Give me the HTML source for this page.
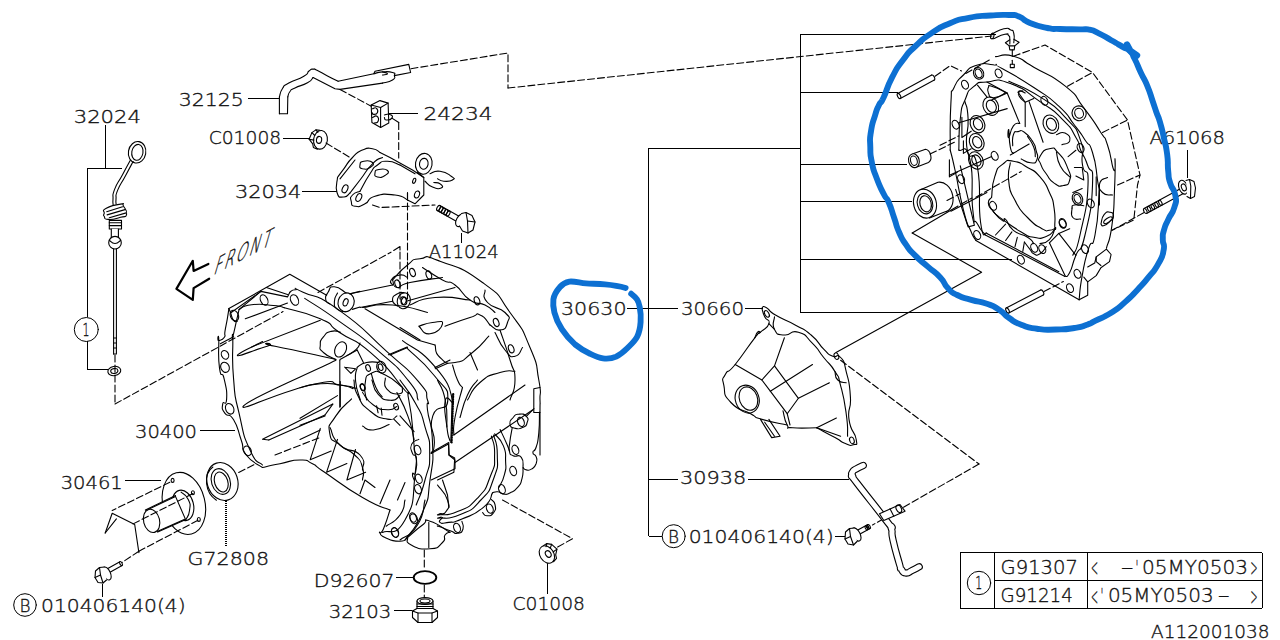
<!DOCTYPE html>
<html><head><meta charset="utf-8"><title>A112001038</title>
<style>
html,body{margin:0;padding:0;background:#fff;}
svg{display:block;}
.k{fill:none;stroke:#000;stroke-width:1.1;stroke-linecap:round;stroke-linejoin:round;}
.w{fill:#fff;stroke:#000;stroke-width:1.1;stroke-linecap:round;stroke-linejoin:round;}
.d{fill:none;stroke:#000;stroke-width:1.1;stroke-dasharray:7 3;}
.b{fill:none;stroke:#0d70d2;stroke-width:5.9;stroke-linecap:round;stroke-linejoin:round;}
text{font-family:"DejaVu Sans Light","DejaVu Sans","Liberation Sans",sans-serif;font-weight:200;font-size:18px;fill:#111;stroke:#111;stroke-width:0.35px;}
</style></head><body>
<svg width="1280" height="640" viewBox="0 0 1280 640">
<rect width="1280" height="640" fill="#fff"/>
<g class="k" id="leaders" shape-rendering="crispEdges" style="stroke-width:1">
<!-- 32024 -->
<path d="M105.5 125V168M87 168H122M87 168V317M87 341V369H108"/>
<circle shape-rendering="geometricPrecision" cx="86.3" cy="329.5" r="12"/>
<!-- 32125, C01008, 32034, 24234 -->
<path d="M248 98H279M283 138.3H310M302 191.3H337M389 113.4H417.5M461 232.5V242.5"/>
<!-- 30400 30461 G72808 bolt -->
<path d="M200 430.7H235M125 480.6H161M102 584V597"/>
<path d="M226 501V546" stroke-width="1.8" stroke-dasharray="1.2 0.8" stroke-linecap="butt"/>
<circle shape-rendering="geometricPrecision" cx="25" cy="605" r="11.3"/>
<!-- D92607 32103 C01008 -->
<path d="M396 577.5H413M394 610.7H412M547.5 561V593.7"/>
<!-- right tree -->
<path d="M627.5 308.4H678M745 308.4H763M648.6 148V536H662M648.6 148H800M800 34V312M800 34H996M800 92H898M800 164H907M800 201H912M800 259H1012M800 312H1010M648.6 479.2H678M748 479.2H849M835 536H845"/>
<circle shape-rendering="geometricPrecision" cx="673.7" cy="536.2" r="11.5"/>
<path d="M1187 150V178"/>
<!-- table -->
<path d="M960.5 552.6H1262V608.4H960.5ZM994.4 552.6V608.4M1087.4 552.6V608.4M994.4 580.5H1262"/>
<circle shape-rendering="geometricPrecision" cx="979" cy="583" r="11.7"/>
</g>
<g id="labels">
<text x="73.7" y="123" style="font-size:18px" textLength="67.3" lengthAdjust="spacingAndGlyphs">32024</text>
<text x="178.7" y="105.5" style="font-size:18px" textLength="65" lengthAdjust="spacingAndGlyphs">32125</text>
<text x="423.5" y="120" style="font-size:18px" textLength="69" lengthAdjust="spacingAndGlyphs">24234</text>
<text x="208.7" y="144.3" style="font-size:18px" textLength="72.5" lengthAdjust="spacingAndGlyphs">C01008</text>
<text x="235" y="197.5" style="font-size:18px" textLength="66.3" lengthAdjust="spacingAndGlyphs">32034</text>
<text x="428.7" y="258" style="font-size:18px" textLength="70" lengthAdjust="spacingAndGlyphs">A11024</text>
<text x="561" y="314.8" style="font-size:18px" textLength="65.6" lengthAdjust="spacingAndGlyphs">30630</text>
<text x="681" y="314.8" style="font-size:18px" textLength="63" lengthAdjust="spacingAndGlyphs">30660</text>
<text x="1149.4" y="144.4" style="font-size:18px" textLength="75.6" lengthAdjust="spacingAndGlyphs">A61068</text>
<text x="135" y="437.5" style="font-size:18px" textLength="62" lengthAdjust="spacingAndGlyphs">30400</text>
<text x="60.7" y="489" style="font-size:18px" textLength="62" lengthAdjust="spacingAndGlyphs">30461</text>
<text x="187.5" y="565" style="font-size:18px" textLength="81.5" lengthAdjust="spacingAndGlyphs">G72808</text>
<text x="313.7" y="586.8" style="font-size:18px" textLength="80.8" lengthAdjust="spacingAndGlyphs">D92607</text>
<text x="328.7" y="617.5" style="font-size:18px" textLength="62.5" lengthAdjust="spacingAndGlyphs">32103</text>
<text x="512.5" y="609.5" style="font-size:18px" textLength="72.5" lengthAdjust="spacingAndGlyphs">C01008</text>
<text x="41" y="612" style="font-size:18px" textLength="144.6" lengthAdjust="spacingAndGlyphs">010406140(4)</text>
<text x="19.5" y="611.5" style="font-size:17px" textLength="11" lengthAdjust="spacingAndGlyphs">B</text>
<text x="680" y="483.8" style="font-size:18px" textLength="66.3" lengthAdjust="spacingAndGlyphs">30938</text>
<text x="688.7" y="543" style="font-size:18px" textLength="145" lengthAdjust="spacingAndGlyphs">010406140(4)</text>
<text x="668" y="542.7" style="font-size:17px" textLength="11" lengthAdjust="spacingAndGlyphs">B</text>
<text x="82.5" y="335.5" style="font-size:17px" textLength="7" lengthAdjust="spacingAndGlyphs">1</text>
<text x="975.3" y="589" style="font-size:17px" textLength="7" lengthAdjust="spacingAndGlyphs">1</text>
<text x="1000.5" y="573.8" style="font-size:19px" textLength="77.5" lengthAdjust="spacingAndGlyphs">G91307</text>
<text x="1000.5" y="602.3" style="font-size:19px" textLength="72.3" lengthAdjust="spacingAndGlyphs">G91214</text>
<text x="1091" y="576.2" style="font-size:25px" textLength="7" lengthAdjust="spacingAndGlyphs">&lt;</text>
<text x="1120.6" y="573.8" style="font-size:19px" textLength="13.4" lengthAdjust="spacingAndGlyphs">-</text>
<text x="1135.5" y="573.8" style="font-size:19px" textLength="3" lengthAdjust="spacingAndGlyphs">'</text>
<text x="1141.9" y="573.8" style="font-size:19px" textLength="106.1" lengthAdjust="spacingAndGlyphs">05MY0503</text>
<text x="1250.6" y="576.2" style="font-size:25px" textLength="7" lengthAdjust="spacingAndGlyphs">&gt;</text>
<text x="1091" y="604.7" style="font-size:25px" textLength="7" lengthAdjust="spacingAndGlyphs">&lt;</text>
<text x="1100.5" y="602.3" style="font-size:19px" textLength="3" lengthAdjust="spacingAndGlyphs">'</text>
<text x="1107.9" y="602.3" style="font-size:19px" textLength="105.7" lengthAdjust="spacingAndGlyphs">05MY0503</text>
<text x="1217.5" y="602.3" style="font-size:19px" textLength="12.5" lengthAdjust="spacingAndGlyphs">-</text>
<text x="1250.6" y="604.7" style="font-size:25px" textLength="7" lengthAdjust="spacingAndGlyphs">&gt;</text>
<text x="1151" y="638.4" style="font-size:18.5px" textLength="118.4" lengthAdjust="spacingAndGlyphs">A112001038</text>
<text transform="matrix(0.55 -0.292 -0.28 0.96 213 275.2)" style="font-size:26px;stroke-width:0.5px" textLength="103" lengthAdjust="spacing">FRONT</text>
</g>
<g id="rhousing" class="k">
<path d="M950.2 150C950.4 134.4 949.6 124 950.9 103.1C952.2 82.3 949.9 96.9 954.1 87.5C958.2 78.1 956.1 82.3 963.4 75C970.7 67.7 966 69 975.9 65.6C985.8 62.2 984.3 63.8 993.1 64.8C1002 65.9 989 61.2 1002.5 68.8C1016 76.3 1015 75 1033.8 87.5C1052.5 100 1045.2 93.8 1058.8 106.2C1072.3 118.8 1065.6 113.8 1074.4 125C1083.1 136.2 1079 130.8 1085 140C1091 149.2 1088.3 139.2 1092.5 152.5C1096.7 165.8 1095.4 165 1097.5 180C1099.6 195 1099.6 179.2 1098.8 197.5C1097.9 215.8 1098.4 217.8 1095 235C1091.6 252.2 1092.7 235.5 1088.4 249.1C1084.2 262.6 1085.3 258.7 1082.2 275.6C1079.1 292.6 1080.1 291.8 1079.1 299.8"/>
<path d="M1079.1 299.8L975.9 240.5"/>
<path d="M975.9 240.5C974.1 237.1 974.6 240.5 970.5 230.3C966.3 220.2 968.6 230.1 963.4 210C958.3 189.9 959.4 190 955 170C950.6 150 951.8 156.7 950.2 150"/>
<path d="M965.8 73.4L990 59.7" class="d" stroke-dasharray="10 4"/>
<path d="M995.5 56.6C1001.5 56.5 1000.7 52.7 1013.4 56.2C1026.2 59.8 1016.6 57.3 1033.8 67.2C1050.9 77.1 1048.3 72.4 1065 85.9C1081.7 99.5 1072.1 92.7 1083.8 107.8C1095.4 122.9 1092.1 118.9 1100 131.2C1107.9 143.6 1102.9 132.1 1107.5 145C1112.1 157.9 1111.2 165 1113.8 170C1116.2 175 1114.8 153.3 1115 160C1115.2 166.7 1115.5 168.1 1114.5 190C1113.5 211.9 1114.6 206.2 1111.9 225.6C1109.2 245.1 1108.2 240.7 1106.4 248.3"/>
<path d="M1079.1 299.8L1087.7 295.2L1087.7 281.9L1096.2 275.6L1100.9 267.8L1109.5 261.6L1111.1 254.5L1106.4 249.1L1096.2 256.9L1096.2 261.6L1100.9 265.5"/>
<path d="M1096.2 256.9L1094.7 263.1L1087.7 267"/>
<path d="M1087.7 281.9L1083.8 277.2"/>
<path d="M958.8 150C959.3 139.6 958.2 135.4 960.3 118.8C962.4 102.1 960.6 110.7 965 100C969.4 89.3 966.3 92.7 973.6 86.7C980.9 80.7 974.6 83.1 986.9 82C999.1 81 992.6 77.1 1010.3 83.6C1028 90.1 1022.8 89.8 1040 101.6C1057.2 113.3 1049.9 106.8 1061.9 118.8C1073.9 130.7 1069.7 127.1 1075.9 137.5C1082.2 147.9 1076.8 140.8 1080.6 150C1084.5 159.2 1083.5 153.3 1087.5 165C1091.5 176.7 1093.3 161.7 1092.5 185C1091.7 208.3 1090.5 211.6 1085 235C1079.5 258.4 1081 242.8 1075.9 255.3C1070.8 267.8 1073.3 265.5 1069.7 272.5C1066 279.5 1066.6 275.1 1065 276.4"/>
<path d="M1065 276.4L985.3 235"/>
<path d="M985.3 235C982.7 231.4 981.7 232.4 977.5 224.1C973.3 215.7 975.3 231.4 972.8 210C970.3 188.6 974.7 180 970 160C965.3 140 962.5 153.3 958.8 150"/>
<path d="M1008.8 81.2C1019.2 86.5 1021.2 84.9 1040 96.9C1058.8 108.9 1051.5 102.6 1065 117.2C1078.5 131.8 1074.8 124.7 1080.6 140.6C1086.5 156.6 1080 150.2 1082.5 165C1085 179.8 1088.8 161.7 1088 185C1087.2 208.3 1085.1 211.6 1080 235C1074.9 258.4 1075.2 248.5 1072.8 255.3"/>
<path d="M986.9 233.4L1058.8 271.7"/>
<path d="M965 101.6C966 107.3 967.3 102.6 968.1 118.8C968.9 134.9 964.2 133.8 967.3 150C970.5 166.2 973.1 143.3 977.5 167.5C981.9 191.7 977.5 200.5 980.6 222.5C983.8 244.5 984.8 229.8 986.9 233.4"/>
<path d="M1013.4 56.2L1045 45L1092.5 72.5L1127.5 120L1140 175L1137.5 185L1133.8 220L1112.5 230" class="d"/>
<path d="M1067.5 86.2L1092.5 72.5" class="d"/>
<path d="M1102.5 132.5L1127.5 120" class="d"/>
<path d="M1117.5 185L1140 175" class="d"/>
<path d="M991.6 197.2C992.6 190.4 991 187.8 994.7 176.9C998.3 165.9 996.2 169.6 1002.5 164.4C1008.8 159.2 1005.1 160.2 1013.4 161.2C1021.8 162.3 1018.6 162.3 1027.5 167.5C1036.4 172.7 1032.7 168.5 1040 176.9C1047.3 185.2 1044.7 182.1 1049.4 192.5C1054.1 202.9 1052.2 196.7 1054.1 208.1C1055.9 219.6 1054.6 220 1054.8 226.9C1055.1 233.8 1056.7 224.5 1054.8 228.8C1053 233 1054.3 234.7 1049.4 239.7C1044.4 244.6 1043.1 242.3 1040 243.6"/>
<path d="M1010.3 162.8C1009.8 169.1 1007.2 169.1 1008.8 181.6C1010.3 194.1 1008.8 188.3 1015 200.3C1021.2 212.3 1018.6 208.1 1027.5 217.5C1036.4 226.9 1034.3 224.2 1041.6 228.4C1048.9 232.7 1044.7 230.5 1049.4 230.3C1054.1 230.2 1053.5 228.8 1055.6 228"/>
<path d="M991.6 197.2C990.5 199.3 987.9 198.8 988.4 203.4C989 208.1 988.4 205.5 993.1 211.2C997.8 217 998.3 217.9 1002.5 220.6C1006.7 223.3 1002 216.1 1005.6 219.4C1009.3 222.6 1006.1 224.3 1013.4 230.3C1020.7 236.3 1020.7 232.9 1027.5 237.3C1034.3 241.8 1031.7 241.5 1033.8 243.6"/>
<path d="M993.1 211.6C996.2 214.2 993.1 212.6 1002.5 219.4C1011.9 226.1 1010.8 225.9 1021.2 231.9C1031.7 237.9 1025.4 235.8 1033.8 237.3C1042.1 238.9 1039.5 238.9 1046.2 236.6C1053 234.2 1051.5 232.4 1054.1 230.3"/>
<path d="M1040 156.6C1042.9 151.4 1043.1 149.8 1049.4 148.8C1055.6 147.7 1052.5 146.7 1058.8 153.4C1065 160.2 1064.5 160.2 1068.1 169.1C1071.8 177.9 1071.2 174.5 1069.7 180C1068.1 185.5 1068.6 184.4 1063.4 185.5C1058.2 186.5 1059.8 187 1054.1 183.1C1048.3 179.2 1050.7 180 1046.2 173.8C1041.8 167.5 1042.9 170.1 1040.8 164.4C1038.7 158.6 1037.1 161.8 1040 156.6Z"/>
<path d="M1056.4 151.9C1057.7 156.6 1055.9 157.6 1060.3 165.9C1064.7 174.3 1066.6 173.2 1069.7 176.9"/>
<path d="M1013.4 153.4C1012.4 151.4 1011.9 155 1010.3 147.2C1008.8 139.4 1009.3 133.2 1008.8 130C1008.2 126.8 1007.2 138.9 1008.8 137.5C1010.3 136.1 1009.8 130.5 1013.4 125.8C1017.1 121.1 1017.6 124.2 1019.7 123.4"/>
<path d="M1012.7 145.6C1012.9 142 1011.6 139.4 1013.4 134.7C1015.3 130 1014.5 132.3 1018.1 131.6C1021.8 130.8 1019.7 129.2 1024.4 132.3C1029.1 135.5 1028.3 134.9 1032.2 140.9C1036.1 146.9 1034.5 144.1 1036.1 150.3C1037.7 156.6 1038.7 155.5 1036.9 159.7C1035.1 163.9 1035.8 163.1 1030.6 162.8C1025.4 162.6 1024.4 160.2 1021.2 158.9"/>
<path d="M1027.5 136.2C1029.6 139.9 1031.1 140.4 1033.8 147.2C1036.4 154 1034.8 153.4 1035.3 156.6"/>
<path d="M1007.2 93L1019.7 123.4"/>
<path d="M1025.2 103.1L1025.2 126.6"/>
<path d="M1029.1 101.6L1043.1 142.2"/>
<path d="M986.9 82L1007.2 93L991.6 100"/>
<path d="M977.5 85.2L986.9 96.9"/>
<path d="M1018.1 92.2L1025.2 102.3L1033.8 98.4"/>
<path d="M1025.2 102.3C1023.3 100.5 1021.8 100.3 1019.7 96.9C1017.6 93.5 1017.9 94.2 1018.9 92.2C1019.9 90.2 1021.5 91.4 1022.8 90.9"/>
<ellipse cx="990.8" cy="106.2" rx="7.5" ry="9.5" transform="rotate(-25 990.8 106.2)"/>
<ellipse cx="991.3" cy="106.2" rx="4.7" ry="6.3" transform="rotate(-25 991.3 106.2)"/>
<ellipse cx="977.5" cy="124.2" rx="7" ry="9" transform="rotate(-25 977.5 124.2)"/>
<ellipse cx="978" cy="124.2" rx="4.3" ry="5.9" transform="rotate(-25 978 124.2)"/>
<ellipse cx="976.7" cy="142.2" rx="7" ry="9" transform="rotate(-25 976.7 142.2)"/>
<ellipse cx="977.2" cy="142.2" rx="4.3" ry="5.9" transform="rotate(-25 977.2 142.2)"/>
<ellipse cx="975.9" cy="160.5" rx="7" ry="9" transform="rotate(-25 975.9 160.5)"/>
<ellipse cx="976.4" cy="160.5" rx="4.3" ry="5.9" transform="rotate(-25 976.4 160.5)"/>
<ellipse cx="1050.9" cy="124.2" rx="7.5" ry="9.5" transform="rotate(-25 1050.9 124.2)"/>
<ellipse cx="1051.4" cy="124.2" rx="4.7" ry="6.3" transform="rotate(-25 1051.4 124.2)"/>
<ellipse cx="1079.1" cy="113.3" rx="7" ry="7.5" transform="rotate(-20 1079.1 113.3)"/>
<ellipse cx="1079.1" cy="113.3" rx="4.3" ry="5" transform="rotate(-20 1079.1 113.3)"/>
<ellipse cx="978.6" cy="73.4" rx="3.2" ry="4.6" transform="rotate(-25 978.6 73.4)"/>
<ellipse cx="998.6" cy="73.4" rx="3.2" ry="4.6" transform="rotate(-25 998.6 73.4)"/>
<ellipse cx="965" cy="84.7" rx="3.2" ry="4.6" transform="rotate(-25 965 84.7)"/>
<ellipse cx="955.6" cy="124.7" rx="3.2" ry="4.6" transform="rotate(-25 955.6 124.7)"/>
<ellipse cx="1044.4" cy="100.8" rx="3.2" ry="4.6" transform="rotate(-25 1044.4 100.8)"/>
<ellipse cx="1080.6" cy="148" rx="3.2" ry="4.6" transform="rotate(-25 1080.6 148)"/>
<ellipse cx="1090.8" cy="203.4" rx="3.2" ry="4.6" transform="rotate(-25 1090.8 203.4)"/>
<ellipse cx="1077.5" cy="198.8" rx="3.2" ry="4.6" transform="rotate(-25 1077.5 198.8)"/>
<ellipse cx="961.1" cy="179.2" rx="3.2" ry="4.6" transform="rotate(-25 961.1 179.2)"/>
<ellipse cx="993.1" cy="205.8" rx="3.2" ry="4.6" transform="rotate(-25 993.1 205.8)"/>
<ellipse cx="994.7" cy="155.8" rx="3.2" ry="4.6" transform="rotate(-25 994.7 155.8)"/>
<ellipse cx="1062.7" cy="223" rx="3.2" ry="4.6" transform="rotate(-25 1062.7 223)"/>
<ellipse cx="977.2" cy="235" rx="3.2" ry="4.6" transform="rotate(-25 977.2 235)"/>
<ellipse cx="1020.9" cy="259.7" rx="3.2" ry="4.6" transform="rotate(-25 1020.9 259.7)"/>
<ellipse cx="1034.2" cy="247.8" rx="3.2" ry="4.6" transform="rotate(-25 1034.2 247.8)"/>
<ellipse cx="1042.3" cy="249.1" rx="3.2" ry="4.6" transform="rotate(-25 1042.3 249.1)"/>
<ellipse cx="1062.7" cy="223.8" rx="3.2" ry="4.6" transform="rotate(-25 1062.7 223.8)"/>
<ellipse cx="1085" cy="249.1" rx="3.2" ry="4.6" transform="rotate(-25 1085 249.1)"/>
<ellipse cx="1077.5" cy="273.8" rx="3.2" ry="4.6" transform="rotate(-25 1077.5 273.8)"/>
<ellipse cx="1070" cy="288.1" rx="3.2" ry="4.6" transform="rotate(-25 1070 288.1)"/>
<ellipse cx="978.6" cy="73.4" rx="5" ry="6" transform="rotate(-25 978.6 73.4)"/>
<ellipse cx="1077.5" cy="198.8" rx="5" ry="6.5" transform="rotate(-25 1077.5 198.8)"/>
<path d="M1018.1 92.2C1018.9 91.8 1018.1 90.7 1020.5 90.9C1022.8 91.2 1023.6 92.3 1025.2 93"/>
<path d="M988.4 87.5C989.5 85.3 986.9 85.1 991.6 86.2C996.2 87.4 998.6 88.3 1002.5 90.9C1006.4 93.5 1006.4 91.8 1003.3 94.1C1000.2 96.3 998.1 98 993.1 97.7C988.2 97.3 990 96.4 988.4 93C986.9 89.6 987.4 89.7 988.4 87.5Z"/>
<path d="M1056.4 134.7C1059.3 134.2 1060.6 131 1065 133.1C1069.4 135.2 1070.7 137 1069.7 140.9C1068.6 144.8 1064.5 143.5 1061.9 144.8"/>
<path d="M1072 208.1C1072.8 207.1 1070.5 205.8 1074.4 205C1078.3 204.2 1080.6 205.5 1083.8 205.8"/>
<path d="M1072 208.1C1072.3 211.2 1069.9 213.9 1072.8 217.5C1075.7 221.1 1078 218.5 1080.6 219.1"/>
<path d="M1107.5 177.5C1105 179.2 1101.7 177.5 1100 182.5C1098.3 187.5 1098.3 188.3 1102.5 192.5C1106.7 196.7 1109.2 194.2 1112.5 195"/>
<path d="M1100.9 224.1C1102 220.9 1100.9 218.6 1104.1 214.7C1107.2 210.8 1107.2 211.8 1110.3 212.3C1113.4 212.9 1113.4 213.4 1113.4 216.2C1113.4 219.1 1113.4 217.8 1110.3 220.9C1107.2 224.1 1107.2 224.6 1104.1 225.6C1100.9 226.7 1102 224.6 1100.9 224.1"/>
<ellipse cx="1108" cy="220.2" rx="5" ry="2" transform="rotate(-35 1108 220.2)"/>
<path d="M1005.6 224.1L995.5 235"/>
<path d="M1011.9 231.9L1005.6 240.5"/>
<path d="M1017.3 237.3L1015 246.7"/>
<path d="M1024.4 242L1022.8 251.4"/>
<path d="M1049.4 242.8L1065 275.6"/>
<path d="M1058.8 233.4L1075.9 255.3"/>
<path d="M1049.4 242.8L1058.8 233.4L1069.7 228.8"/>
<path d="M1024.4 242C1026.2 244.4 1026.7 245.2 1029.8 249.1C1033 253 1030.4 252.2 1033.8 253.8C1037.1 255.3 1035.8 256.1 1040 253.8C1044.2 251.4 1044.2 249.1 1046.2 246.7"/>
<path d="M958.8 122.7L1007.2 108.6"/>
<path d="M940 145.3L958.8 135.9" class="d"/>
<path d="M949.4 175.3L991.6 156.6"/>
<path d="M975.9 197.2L1021.2 171.4" class="d" stroke-dasharray="10 4"/>
<path d="M950.9 211.2L986.9 192.5"/>
<path d="M961.9 117.2L961.9 137.5L971.2 131.2"/>
<path d="M963.4 140.9L963.4 153.4L971.2 148.8"/>
<path d="M949.4 159.7L949.4 176.9L957.2 172.2"/>
<path d="M960.3 165.9L974.4 225.3L968.1 226.9L955.6 189.4"/>
<path d="M1010.3 155L1029.1 144.1"/>
<path d="M1074.4 167.5L1082.2 167.5L1083.8 180L1075.9 176.1"/>
<path d="M1068.1 156.6L1075.9 150.3"/>
<path d="M1072.8 192.5L1082.2 188.6"/>
<path d="M1096.2 176.9L1096.2 195.6"/>
<path d="M1099.4 184.7L1099.4 205"/>
<path d="M992.8 33.5C996.5 32 997.9 30.1 1003.8 28.8C1009.6 27.5 1007 28.1 1010.3 29.7C1013.7 31.3 1012.7 29.1 1013.8 33.5C1015 37.9 1013.8 39.7 1013.8 42.8"/>
<path d="M993.4 38.7C997.2 37.2 999.8 35.3 1004.9 34.3C1010 33.3 1007 34.3 1008.7 35.7C1010.3 37.2 1009.4 35.9 1009.8 38.7C1010.1 41.4 1009.8 42.2 1009.8 43.9"/>
<ellipse cx="992.3" cy="36" rx="1.6" ry="2.9" transform="rotate(15 992.3 36)"/>
<path d="M1009.8 39.8L1005.4 42.8L1009.2 45.9L1014.7 45.9L1019.1 42.3L1013.8 39.3"/>
<path d="M1009.2 46.1L1009.8 49.9L1014.2 49.9L1014.7 46.1"/>
<path d="M1012.3 49.9L1012.3 56.5"/>
<path d="M1012.3 60.3L1012.3 64.2"/>
<rect x="1010.3" y="64.2" width="4" height="3.4"/>
</g>
<g id="rsmall" class="k">
<path d="M900.3 98.5L934.3 80.1"/>
<path d="M897.7 93.5L931.7 75.1"/>
<path d="M934.3 80.1A1.4 2.8 -28.4 0 0 931.7 75.1"/>
<ellipse cx="899" cy="96" rx="1.4" ry="2.8" transform="rotate(-28.4 899 96)" class="w"/>
<path d="M935 76.3L950.3 65.6L961.5 71" class="d"/>
<path d="M1008.8 313L1043.3 295"/>
<path d="M1006.2 308L1040.7 290"/>
<path d="M1043.3 295A1.4 2.8 -27.6 0 0 1040.7 290"/>
<ellipse cx="1007.5" cy="310.5" rx="1.4" ry="2.8" transform="rotate(-27.6 1007.5 310.5)" class="w"/>
<path d="M1044 291.5L1063.4 281.5" class="d"/>
<path class="w" d="M913 153.8L925.5 149.3A5 7 -15 0 1 928.5 162.5L915.5 167.4Z"/>
<ellipse cx="913.9" cy="160.7" rx="5.3" ry="7" transform="rotate(-15 913.9 160.7)" class="w"/>
<ellipse cx="913.9" cy="160.7" rx="3.3" ry="4.8" transform="rotate(-15 913.9 160.7)"/>
<path d="M930 154L956 141.5" class="d"/>
<path class="w" d="M921 189.5L938 182.3A11 14.5 -15 0 1 944.5 212L929.5 218Z"/>
<ellipse cx="925" cy="203.6" rx="11.3" ry="14.7" transform="rotate(-15 925 203.6)" class="w"/>
<ellipse cx="925" cy="203.6" rx="7.6" ry="10.4" transform="rotate(-15 925 203.6)"/>
<ellipse cx="925.6" cy="203.8" rx="5.6" ry="8.2" transform="rotate(-15 925.6 203.8)"/>
<path d="M947 200.4L960 193.8" class="d"/>
<path d="M912.2 233L958 206"/>
<path d="M961 204.2L972 198" class="d"/>
<path d="M912.2 233L981.6 272.2L836 352.5"/>
<path d="M1146.6 213.4L1184.3 192.9"/>
<path d="M1144 208.6L1181.7 188.1"/>
<path d="M1184.3 192.9A1.4 2.7 -28.5 0 0 1181.7 188.1"/>
<ellipse cx="1145.3" cy="211" rx="1.4" ry="2.7" transform="rotate(-28.5 1145.3 211)" class="w"/>
<ellipse cx="1149.1" cy="208.9" rx="1.4" ry="2.7" transform="rotate(-28 1149.1 208.9)"/>
<ellipse cx="1152.8" cy="206.9" rx="1.4" ry="2.7" transform="rotate(-28 1152.8 206.9)"/>
<ellipse cx="1156.6" cy="204.8" rx="1.4" ry="2.7" transform="rotate(-28 1156.6 204.8)"/>
<ellipse cx="1160.4" cy="202.8" rx="1.4" ry="2.7" transform="rotate(-28 1160.4 202.8)"/>
<ellipse cx="1183.2" cy="187.2" rx="4.3" ry="7.2" transform="rotate(-20 1183.2 187.2)" class="w"/>
<path class="w" d="M1186 180.5L1189.5 179.5L1194 181.5L1195.5 188L1194.5 196.5L1190.5 198.5L1187 196.5"/>
<path d="M1189.5 179.5L1190.8 186L1190.5 198.5"/>
<ellipse cx="1183.8" cy="187.4" rx="2.3" ry="3.6" transform="rotate(-20 1183.8 187.4)"/>
<path d="M1143.7 212.7L1111.7 230.6" class="d"/>
</g>
<g id="lhousing" class="k">
<path d="M228.9 308.6C228.4 312 228.6 311.2 227.3 318.8C226 326.3 226 325 225 331.2C224 337.5 226.3 334.4 224.2 337.5C222.1 340.6 220.6 339.8 218.8 340.6C216.9 341.5 218.5 330.8 218.8 340C219 349.2 217.7 355.1 219.5 368.1C221.4 381.1 221.9 368.6 224.2 379.1C226.6 389.5 227.1 391 226.6 399.4C226 407.7 223.2 399.4 222.7 404.1C222.1 408.8 221.4 408.2 225 413.4C228.6 418.6 228.2 410.8 233.6 419.7C239 428.5 237 428.2 241.2 440C245.5 451.8 239.2 445.8 246.2 455C253.3 464.2 257.1 463.3 262.5 467.5"/>
<path d="M239.1 309.4C238 314.1 238 314.1 235.9 323.4C233.9 332.8 233.9 332 232.8 337.5C231.8 343 232.6 326.1 232.8 340C233.1 353.9 231.5 354.6 233.6 379.1C235.7 403.5 233.6 389.8 239.1 413.4C244.5 437.1 242.2 432.8 250 450C257.8 467.2 258.3 460 262.5 465"/>
<path d="M228.9 308.6L289.8 274.2L326.6 295.3"/>
<path d="M231.2 312.5L260.9 291.4L287.5 296.9L289.8 292.2"/>
<path d="M289.8 292.2C291.7 291.4 290.9 289.8 295.3 289.8C299.7 289.8 288.2 285.2 303.1 292.2C318 299.2 312.1 291.1 340 310.9C367.9 330.7 360.8 328.1 386.9 351.6C412.9 375 404.6 365.1 418.1 381.2C431.7 397.4 424.4 390.4 427.5 400C430.6 409.6 425.8 395.8 427.5 410C429.2 424.2 431.7 419.2 432.5 442.5C433.3 465.8 433.3 456.7 430 480C426.7 503.3 430.8 492.5 422.5 512.5C414.2 532.5 410.8 530.8 405 540"/>
<path d="M266.4 287.5L287.5 294.5"/>
<path d="M304.7 298.4C316.5 306.2 315.2 304.2 340 321.9C364.8 339.6 356.1 331.8 379.1 351.6C402 371.4 395.7 365.1 408.8 381.2C421.8 397.4 415 393.8 418.1 400"/>
<path d="M284.4 307.8C296.4 311.5 301.8 310.4 320.3 318.8C338.9 327.1 323 321.4 340 332.8C357 344.3 350.4 334.9 371.2 353.1C392.1 371.4 390 371.9 402.5 387.5C415 403.1 405 381.7 408.8 400C412.5 418.3 411.7 417.5 413.8 442.5C415.8 467.5 417.9 449.2 415 475C412.1 500.8 415.8 500.8 405 520C394.2 539.2 390 528.3 382.5 532.5"/>
<path d="M402.5 340.6C413.4 349.5 418.6 347.4 435.3 367.2C452 387 449.2 389 452.5 400C455.8 411 447.2 391.4 445.3 400.3C443.4 409.3 445.3 413.3 446.9 426.9C448.4 440.4 449 436.2 450 440.9"/>
<path d="M407.2 348.4C416 357.3 420.2 357.8 433.8 375C447.3 392.2 448.1 386.4 447.8 400C447.5 413.6 437.3 401.8 432.8 415.9C428.3 430.1 434.9 430 434.4 442.5C433.9 455 432.3 449.8 431.2 453.4"/>
<path d="M400 380C405.2 387.8 407.3 387.8 415.6 403.4C424 419.1 420.3 410.2 425 426.9C429.7 443.5 429.7 435.7 429.7 453.4C429.7 471.1 429.5 462.8 425 480C420.5 497.2 419.2 496.7 416.2 505"/>
<path d="M396.9 392.5C400.5 400.3 402.1 400.3 407.8 415.9C413.5 431.6 412 431.6 414.1 439.4"/>
<path d="M239.1 309.4L260.9 291.4"/>
<path d="M239.1 309.4C243.2 307.8 240.1 306 251.6 304.7C263 303.4 262.5 304.4 273.4 305.5C284.4 306.5 280.7 307 284.4 307.8"/>
<ellipse cx="264.1" cy="300" rx="3.5" ry="5.5" transform="rotate(-25 264.1 300)"/>
<ellipse cx="294.5" cy="300" rx="3.8" ry="5.5" transform="rotate(-25 294.5 300)"/>
<ellipse cx="234.4" cy="315.6" rx="4" ry="5.5" transform="rotate(-25 234.4 315.6)"/>
<ellipse cx="225" cy="354.8" rx="3.5" ry="4.5" transform="rotate(-25 225 354.8)"/>
<ellipse cx="225" cy="367.3" rx="4.2" ry="5.2" transform="rotate(-25 225 367.3)"/>
<ellipse cx="229.7" cy="408.8" rx="4" ry="5.5" transform="rotate(-25 229.7 408.8)"/>
<ellipse cx="247.5" cy="450.8" rx="3.6" ry="5" transform="rotate(-25 247.5 450.8)"/>
<path d="M228.9 308.6C229.4 309.9 228.9 308.6 230.5 312.5C232 316.4 231.2 317.4 233.6 320.3C235.9 323.2 236.2 320.8 237.5 321.1"/>
<path d="M245.3 318.8L287.5 303.1"/>
<path d="M220.3 343.8L233.6 336.7"/>
<path d="M251.6 346.9L320.3 320.3"/>
<path d="M262.5 341.6C254.2 346.2 235.9 354.1 237.5 355.6C239.1 357.2 254.7 349.4 267.2 346.2C279.7 343.1 252.1 341.8 275 346.2C297.9 350.7 315.6 355.1 335.9 359.5"/>
<path d="M335.9 360.3C305.2 375.4 251.6 397.6 243.8 405.6C235.9 413.7 280.2 391.3 312.5 384.5C344.8 377.8 326 384 340.6 385.3C355.2 386.6 351 387.4 356.2 388.4"/>
<path d="M268.8 440L262.5 439.2L332.8 404.1"/>
<path d="M268.8 440L325 415"/>
<path d="M275 455L320 437.5" class="d" stroke-dasharray="9 4"/>
<path d="M339.8 360.3L339.8 407.2"/>
<ellipse cx="340.6" cy="349.4" rx="5.5" ry="8" transform="rotate(25 340.6 349.4)"/>
<path d="M335.9 359.5C331.8 357.2 328.6 357.4 323.4 352.5C318.2 347.6 320.3 349.9 320.3 344.7C320.3 339.5 319.8 341.3 323.4 336.9C327.1 332.4 325.5 333 331.2 331.4C337 329.8 337.5 331.9 340.6 332.2"/>
<path d="M346.9 355.6C350 353.5 351.9 353.5 356.2 349.4C360.6 345.2 358.8 345.2 360 343.1"/>
<ellipse cx="346.1" cy="302.3" rx="8" ry="9.5" transform="rotate(15 346.1 302.3)"/>
<ellipse cx="345.6" cy="302.3" rx="2.3" ry="3.8" transform="rotate(20 345.6 302.3)"/>
<path d="M346.1 293C342.2 290.9 340.4 287 334.4 286.7C328.4 286.5 331 287.8 328.1 292.2C325.3 296.6 325.3 296.1 325.8 300C326.3 303.9 328.4 302.6 329.7 303.9"/>
<path d="M337.5 293C336.5 295.8 334.4 296.1 334.4 301.6C334.4 307 333.6 306 337.5 309.4C341.4 312.8 343.2 310.9 346.1 311.7"/>
<path d="M350 293.8L360 291.4"/>
<path d="M352.3 309.4L360 307"/>
<ellipse cx="403.8" cy="300.8" rx="6.5" ry="8" transform="rotate(15 403.8 300.8)"/>
<ellipse cx="403.8" cy="300.8" rx="2.4" ry="3.8" transform="rotate(20 403.8 300.8)"/>
<path d="M403.8 292.5C401.7 292.9 401.2 291.2 397.5 293.8C393.8 296.2 392.5 295.8 392.5 300C392.5 304.2 395.8 304.2 397.5 306.2"/>
<path d="M350 293.8L392.5 285"/>
<path d="M360 307.5L392.5 301.2"/>
<path d="M392.5 285C392.1 283.3 388.8 283.3 391.2 280C393.8 276.7 394.6 275.8 400 275C405.4 274.2 405 276.7 407.5 277.5"/>
<ellipse cx="397.5" cy="283.8" rx="2.5" ry="4" transform="rotate(-20 397.5 283.8)"/>
<path d="M392.5 280C397.5 275 398.3 272.1 407.5 265C416.7 257.9 409.2 260 420 258.8C430.8 257.5 419.2 253.3 440 261.2C460.8 269.2 459.2 265.4 482.5 282.5C505.8 299.6 494.2 290.8 510 312.5C525.8 334.2 520.4 325 530 347.5C539.6 370 535.4 362.5 538.8 380C542.1 397.5 539.6 389.2 540 400C540.4 410.8 540 394.2 540 412.5C540 430.8 540 440.8 540 455"/>
<path d="M540 387.5L533.8 388.8L533.8 412.5L540 412.5"/>
<path d="M422.5 267.5C429.2 271.7 431.7 274.2 442.5 280C453.3 285.8 445.8 278.3 455 285C464.2 291.7 460 293.3 470 300C480 306.7 476.7 300.8 485 305C493.3 309.2 491.7 310 495 312.5"/>
<path d="M485 290C485.8 294.2 480.8 295 487.5 302.5C494.2 310 498.3 305.8 505 312.5C511.7 319.2 509.2 316.7 507.5 322.5C505.8 328.3 505.8 329.2 500 330C494.2 330.8 493.3 326.7 490 325"/>
<path d="M495 332.5C498.3 338.3 498.3 342.1 505 350C511.7 357.9 509.2 357.1 515 356.2C520.8 355.4 520 350.4 522.5 347.5"/>
<path d="M500 330C503.3 340 505 343.3 510 360C515 376.7 515 366.7 515 380C515 393.3 511.7 393.3 510 400"/>
<ellipse cx="477" cy="300.8" rx="2.6" ry="4.2" transform="rotate(-20 477 300.8)"/>
<ellipse cx="496.2" cy="322.5" rx="2.6" ry="4.2" transform="rotate(-20 496.2 322.5)"/>
<ellipse cx="511.2" cy="348.8" rx="2.6" ry="4.2" transform="rotate(-20 511.2 348.8)"/>
<ellipse cx="412.5" cy="272.5" rx="2.6" ry="4.2" transform="rotate(-20 412.5 272.5)"/>
<ellipse cx="428.8" cy="275" rx="2.6" ry="4.2" transform="rotate(-20 428.8 275)"/>
<ellipse cx="403.8" cy="300.8" rx="2.6" ry="4.2" transform="rotate(-20 403.8 300.8)"/>
<path d="M392.5 280C394.2 282.5 391.7 286.7 397.5 287.5C403.3 288.3 395 285.8 410 282.5C425 279.2 431.7 279.2 442.5 277.5"/>
<path d="M406.2 301.2L455 287.5"/>
<path d="M410 305C418.3 302.5 415 299.2 435 297.5C455 295.8 458.3 299.2 470 300"/>
<path d="M362.5 307.5C372.5 306.7 370.8 303.3 392.5 305C414.2 306.7 415.8 310 427.5 312.5"/>
<path d="M365 308.8L417.5 340L435 345"/>
<path d="M400 327.5L420 340"/>
<path d="M418.8 326.2C423.3 325 424.6 323.3 432.5 322.5C440.4 321.7 443.3 320 442.5 323.8C441.7 327.5 437.9 332.9 430 333.8C422.1 334.6 422.5 328.8 418.8 326.2"/>
<path d="M445 326.2C453.3 323.3 458.3 321.2 470 317.5C481.7 313.8 473.3 312.5 480 315C486.7 317.5 486.7 321.7 490 325"/>
<path d="M435 345C436.7 349.2 433.3 351.7 440 357.5C446.7 363.3 444.2 364.2 455 362.5C465.8 360.8 461.2 361.2 472.5 352.5C483.8 343.8 483.3 341.7 488.8 336.2"/>
<path d="M470 352.5L477.5 370"/>
<path d="M452.5 365C454.2 370 454.2 372.5 457.5 380C460.8 387.5 460.8 385 462.5 387.5"/>
<path d="M467.5 400C471.7 394.2 469.2 391.7 480 382.5C490.8 373.3 488.3 376.2 500 372.5C511.7 368.8 510 371.7 515 371.2"/>
<path d="M435 367.5L450 360"/>
<path d="M390 355L407.5 347.5"/>
<path d="M539.5 412C539.2 418.9 539.9 421.1 538.8 432.8C537.7 444.4 538.1 440.4 536.2 447C534.2 453.6 532.9 449.2 532.9 452.5C532.9 455.7 535.1 453.2 536.2 456.8C537.3 460.5 537.6 459.4 536.2 463.4C534.7 467.4 535.1 466.7 531.8 468.9C528.5 471 529.3 470.3 526.3 469.9C523.4 469.6 524.2 468.5 523.1 467.8"/>
<path d="M523.1 467.8C522.7 471.4 523.8 472.1 522 478.7C520.1 485.2 521.6 482.7 517.6 487.4C513.6 492.2 514.7 490.7 509.9 492.9C505.2 495.1 507.4 494.4 503.4 494C499.4 493.6 501.6 492.2 497.9 491.8C494.3 491.4 494.3 492.5 492.5 492.9"/>
<path d="M509.9 424C509.2 420.4 510.3 420.8 513.2 417.5C516.1 414.2 514.3 414.6 518.7 414.2C523.1 413.8 523.6 413.5 526.3 416.4C529.1 419.3 528.1 419.3 527 423C525.9 426.6 526.9 425.5 523.1 427.3C519.2 429.1 519.8 429.5 515.4 428.4C511 427.3 510.7 427.7 509.9 424Z"/>
<path d="M526.3 416.4L534 408.7"/>
<path d="M512.1 428.4C511.4 432.8 510.8 433.9 509.9 441.5C509.1 449.2 508.4 446.6 509.5 451.4C510.6 456.1 509.3 453.8 513.2 455.7C517.2 457.7 518 453.3 521.3 457.3C524.6 461.3 522.5 464.3 523.1 467.8"/>
<path d="M494.6 433.9C497.6 437.9 499.7 436.8 503.4 445.9C507 455 505.2 451.7 505.6 461.2C505.9 470.7 506.7 465.6 504.5 474.3C502.3 483.1 500.8 483.1 499 487.4"/>
<path d="M500.1 429.5C502.3 434.2 503.5 436.4 506.7 443.7C509.8 451 508.6 448.8 509.5 451.4"/>
<path d="M491.4 436.1C492.5 442.3 495 441.2 494.6 454.6C494.3 468.1 496.1 461.9 490.3 476.5C484.4 491.1 488.1 486.7 477.2 498.4C466.2 510 469.9 506 457.5 511.5C445.1 516.9 445.8 514 440 514.8C434.2 515.5 440 514.1 440 513.8"/>
<path d="M493.6 435C494.8 441.5 497.3 440.1 497.3 454.6C497.3 469.2 499.2 463.4 493.6 478.7C487.9 494 491.7 488.5 480.4 500.5C469.1 512.6 473.2 508.9 459.7 514.8C446.2 520.6 446.1 517.3 440 518C433.9 518.8 440.8 517.3 441.2 517"/>
<path d="M492.5 492.9C489.5 497.6 493.9 498.4 483.7 507.1C473.5 515.8 473.5 514 461.9 519.1C450.2 524.2 456 521.3 448.7 522.4C441.5 523.5 442.1 524 440 522.4C437.9 520.8 441.7 519.1 442.5 517.5"/>
<path d="M491.4 499.5C492.6 501.3 494.4 500.5 495.1 504.9C495.8 509.3 496.2 508.9 493.6 512.6C490.9 516.2 490.6 515.8 487 515.8C483.4 515.8 484.1 513.7 482.6 512.6"/>
<path d="M461.9 521.3C462.2 523.9 464.4 525 463 529C461.5 533 461.5 532.6 457.5 533.3C453.5 534.1 456.8 533.3 450.9 531.1C445.1 529 444.5 528.4 440 526.8C435.5 525.1 438.3 526.4 437.5 526.2"/>
<path d="M437.5 485C440.8 490 444.6 491.2 447.5 500C450.4 508.8 448.8 506.7 446.2 511.2C443.8 515.8 442.1 512.9 440 513.8"/>
<ellipse cx="520.9" cy="421.9" rx="3.2" ry="4.8" transform="rotate(-20 520.9 421.9)"/>
<ellipse cx="515.4" cy="449.8" rx="3.2" ry="4.8" transform="rotate(-20 515.4 449.8)"/>
<ellipse cx="513.2" cy="471" rx="3.2" ry="4.8" transform="rotate(-20 513.2 471)"/>
<ellipse cx="501.9" cy="489.2" rx="3.2" ry="4.8" transform="rotate(-20 501.9 489.2)"/>
<ellipse cx="489.8" cy="508.6" rx="3.2" ry="4.8" transform="rotate(-20 489.8 508.6)"/>
<ellipse cx="457" cy="527.9" rx="3.2" ry="4.8" transform="rotate(-20 457 527.9)"/>
<ellipse cx="417.5" cy="450" rx="3.2" ry="4.8" transform="rotate(-20 417.5 450)"/>
<ellipse cx="418.8" cy="478.8" rx="3.2" ry="4.8" transform="rotate(-20 418.8 478.8)"/>
<ellipse cx="418" cy="489.2" rx="3.2" ry="4.8" transform="rotate(-20 418 489.2)"/>
<ellipse cx="413" cy="517.5" rx="3.2" ry="4.8" transform="rotate(-20 413 517.5)"/>
<ellipse cx="395" cy="532.5" rx="3.2" ry="4.8" transform="rotate(-20 395 532.5)"/>
<path d="M431.2 452.5L448.8 442.5L448.8 455L455 460L455 468.8L431.2 480"/>
<path d="M453.8 435L525 385"/>
<path d="M455 462.5L532.5 410"/>
<path d="M462.5 387.5C460 397.5 457.9 401.7 455 417.5C452.1 433.3 454.2 429.2 453.8 435"/>
<path d="M477.5 380C474.2 385 473.3 382.5 467.5 395C461.7 407.5 462.5 410 460 417.5"/>
<path d="M442.5 480L447.5 495L448.8 507.5"/>
<path d="M418.8 439.4C416.4 440.9 413.8 439.4 411.7 444.1C409.6 448.8 410.9 448.8 412.5 453.4C414.1 458.1 415.4 451.9 416.4 458.1C417.4 464.4 416.9 467 415.6 472.2C414.3 477.4 413 471.1 412.5 473.8C412 476.4 413.5 477.9 414.1 480"/>
<path d="M262.5 467.5C268.3 466.2 267.5 466.2 280 463.8C292.5 461.2 289.2 460 300 460C310.8 460 304.2 459.6 312.5 463.8C320.8 467.9 308.3 461.2 325 472.5C341.7 483.8 340.8 485 362.5 497.5C384.2 510 380.8 505.8 390 510"/>
<path d="M390 510C388.3 515 387.9 517.5 385 525C382.1 532.5 382.9 530 381.2 532.5C379.6 535 378.8 530.8 380 532.5C381.2 534.2 378.3 534.6 385 537.5C391.7 540.4 392.5 541.2 400 541.2C407.5 541.2 405 538.8 407.5 537.5"/>
<path d="M407.5 537.5C408.8 540 403.8 541.2 411.2 545C418.8 548.8 419.6 549.6 430 548.8C440.4 547.9 437.5 547.1 442.5 542.5C447.5 537.9 442.5 538.5 445 535C447.5 531.5 448.3 533 450 532"/>
<path d="M407.5 537.5C412.5 533.3 415 530.4 422.5 525C430 519.6 420.8 518.8 430 521.2C439.2 523.8 443.3 528.8 450 532.5"/>
<path d="M428.8 522.5L428.8 547.5"/>
<ellipse cx="395" cy="532.5" rx="3.5" ry="5" transform="rotate(-20 395 532.5)"/>
<ellipse cx="413.8" cy="518.8" rx="3.5" ry="5" transform="rotate(-20 413.8 518.8)"/>
<path d="M386.2 526.2C390.8 522.5 393.8 523.8 400 515C406.2 506.2 403.3 505 405 500"/>
<path d="M400 540C405.8 535 409.2 538.3 417.5 525C425.8 511.7 422.5 508.3 425 500"/>
<path d="M353.9 380C355.2 385.2 352.3 385.2 357.8 395.6C363.3 406 360.4 403.4 370.3 411.2C380.2 419.1 378.6 417.5 387.5 419.1C396.4 420.6 393.8 417 396.9 415.9"/>
<path d="M362.5 392.5C366.1 396.7 365.1 399.3 373.4 405C381.8 410.7 379.7 409.2 387.5 409.7C395.3 410.2 393.8 407.6 396.9 406.6"/>
<path d="M371.9 380C374 384.7 371.9 387.3 378.1 394.1C384.4 400.8 383.3 399.8 390.6 400.3C397.9 400.8 396.9 397.2 400 395.6"/>
<path d="M357.2 367.2C356.7 371.9 354.6 370.3 355.6 381.2C356.7 392.2 358.8 393.8 360.3 400"/>
<path d="M357.2 367.2C360.3 365.6 359.3 364.1 366.6 362.5C373.9 360.9 374.9 362.5 379.1 362.5"/>
<path d="M366.6 400C366 394.8 363.4 393.2 365 384.4C366.6 375.5 364.5 376.6 371.2 373.4C378 370.3 374.9 370.3 385.3 375C395.7 379.7 396.8 383.3 402.5 387.5"/>
<path d="M371.2 373.4C372.8 378.1 372.3 379.7 375.9 387.5C379.6 395.3 380.1 393.8 382.2 396.9"/>
<path d="M385.3 378.1C385.8 381.8 382.2 383.9 386.9 389.1C391.6 394.3 394.2 394.3 399.4 393.8C404.6 393.2 401.5 389.6 402.5 387.5"/>
<ellipse cx="368.1" cy="368" rx="2.2" ry="3.4" transform="rotate(-20 368.1 368)"/>
<ellipse cx="380.6" cy="367.2" rx="2.2" ry="3.4" transform="rotate(-20 380.6 367.2)"/>
<ellipse cx="362.7" cy="387.5" rx="2.2" ry="3.4" transform="rotate(-20 362.7 387.5)"/>
<ellipse cx="362.5" cy="387" rx="2.2" ry="3.4" transform="rotate(-20 362.5 387)"/>
<ellipse cx="396.1" cy="406.6" rx="2.2" ry="3.4" transform="rotate(-20 396.1 406.6)"/>
<ellipse cx="381.4" cy="367.2" rx="4.5" ry="6" transform="rotate(-20 381.4 367.2)"/>
<path d="M357.2 350L363.4 362.5"/>
<path d="M340 359.4L357.2 350"/>
<path d="M344.7 367.2L355.6 368.8L350.9 373.4L344.7 367.2"/>
<path d="M388.4 354.7L407.2 346.9"/>
<path d="M435.3 368.8L447.8 363.3"/>
<path d="M376.6 405.8L378.1 412.8"/>
<path d="M381.2 408.1L382 415.2"/>
<path d="M300 387.8C306.2 386.5 305.7 384.9 318.8 383.9C331.8 382.9 327.6 383.1 339.1 384.7C350.5 386.2 348.4 387.3 353.1 388.6"/>
<path d="M340.3 381.6L340.3 406.6"/>
<path d="M351.6 398.8C346.4 404.5 343.2 404.5 335.9 415.9C328.6 427.4 328.1 423.2 329.7 433.1C331.2 443 332.3 438.3 340.6 445.6C349 452.9 347.4 447.7 354.7 455C362 462.3 359.9 459.2 362.5 467.5C365.1 475.8 362.5 475.8 362.5 480"/>
<path d="M362.5 426.1C366.1 427.4 364.6 430.5 373.4 430C382.3 429.5 383.9 426.4 389.1 424.5"/>
<path d="M320.3 428.4L310.2 459.7L331.2 451.1"/>
<path d="M337.5 439.4L326.6 472.2L346.9 463.6"/>
<path d="M355.5 449.5L346.9 480L365.6 472.2"/>
<path d="M325 415L332.8 404.1"/>
<path d="M300 418.3L337.5 395.6"/>
<path d="M300 425.3L325 415.9"/>
<path d="M300 439.4L320.3 430"/>
<path d="M393.8 419.1L400 425.3"/>
<path d="M400 415.9L414.1 431.6"/>
<path d="M360 493.8L365 480L375 487.5"/>
<path d="M380 503.8L390 480"/>
<path d="M397.5 500L405 482.5"/>
<path d="M330 427.5C333.3 433.3 330 435.8 340 445C350 454.2 352.5 446.7 360 455C367.5 463.3 361.7 465 362.5 470"/>
<path d="M431.2 453.4L448.4 444.1L449.2 455L454.7 458.1L453.9 472.2L437.5 480"/>
<path d="M452.3 394.1L450.8 442.5"/>
<path d="M453.3 394.1L451.7 442.5" stroke-width="2" stroke-dasharray="0.8 1.6"/>
<path d="M437.5 380C440.1 386.8 442.2 384.7 445.3 400.3C448.4 415.9 446.4 418 446.9 426.9"/>
</g>
<g id="small" class="k">
<ellipse cx="137.1" cy="152.3" rx="8.7" ry="10.8" transform="rotate(10 137.1 152.3)"/>
<ellipse cx="137.4" cy="152.3" rx="5.6" ry="8" transform="rotate(10 137.4 152.3)"/>
<path d="M130.2 160.5C127.6 165.2 127.6 165.2 122.5 174.7C117.4 184.2 118 180.8 114.8 188.9C111.6 197 113.4 193.3 113 199.1C112.5 204.8 113.2 203.8 113.4 206.2"/>
<path d="M133.1 161.5C130.6 166.2 130.6 166.2 125.5 175.7C120.5 185.2 121 182.1 117.8 189.9C114.6 197.7 116.5 193.8 116 199.1C115.5 204.3 116.3 203.4 116.4 205.6"/>
<path d="M104.2 213.3C104.9 210.6 100.8 211.3 106.3 208.2C111.7 205.2 114.7 204.8 120.5 204.1C126.2 203.5 121.5 202.8 123.5 206.2C125.5 209.6 127.6 210.6 126.6 214.3C125.5 218 126.6 215.7 120.5 217.3C114.4 219 113.7 219.7 108.3 219.4C102.9 219 105.6 218.4 104.2 216.3C102.9 214.3 103.5 216 104.2 213.3Z" class="w"/>
<path d="M106.7 211.7L122.5 206.8"/>
<path d="M107.1 214.9L124.9 209.6"/>
<path d="M109.3 217.8L126.2 212.9"/>
<path class="w" d="M109.3 220.4H121.5V229H109.3Z"/>
<path d="M109.3 222.8L121.5 222.8"/>
<path d="M109.3 225.6L121.5 225.6"/>
<path class="w" d="M111.3 229V238.5H118.4V229"/>
<circle cx="115" cy="242.7" r="6.3" class="w"/>
<path d="M109.5 240.5C111.3 241.5 111.3 243.5 115 243.5C118.7 243.5 118.7 241.5 120.5 240.5"/>
<path d="M113.6 249L113.6 354"/>
<path d="M116.4 249L116.4 354L113.6 354"/>
<path d="M113.6 338L116.4 338"/>
<path d="M113.6 343L116.4 343"/>
<path d="M113.6 348L116.4 348"/>
<path d="M115 355L115 404" class="d" stroke-dasharray="8 3"/>
<ellipse cx="114.3" cy="371" rx="6.5" ry="4.6" transform="rotate(-10 114.3 371)"/>
<ellipse cx="114.3" cy="371" rx="3.6" ry="2.4" transform="rotate(-10 114.3 371)"/>
<path d="M115 404L283 311.6" class="d" stroke-dasharray="16 5"/>
<path d="M318 292.4L391 252.2" class="d" stroke-dasharray="16 5"/>
<path d="M393.7 250.5L400 246.5L400 250"/>
<path d="M400 252L400 300" class="d" stroke-dasharray="9 3"/>
<path d="M208.4 263.9L193.6 270.9L192.8 260.8L176.4 288.9L192.8 299.8L193.6 288.1L209.2 278.7" stroke-width="2.2"/>
<path d="M279.4 113.8L279.4 96.9"/>
<path d="M279.4 96.9C280.4 94.1 279.4 93.1 282.5 88.5C285.6 83.9 281.7 87.2 288.8 83.1C295.8 79 297 80.3 303.8 76.2C310.5 72.2 305.9 73.4 309 71C312.1 68.6 310.3 69.3 313.1 69.1C316 69 312.7 68.2 317.5 70.5C322.3 72.8 320.6 72.3 327.5 75.9C334.4 79.5 334.6 79.5 338.1 81.2"/>
<path d="M338.1 81.2L373.8 73.8L375 71.2L408.8 64.4L410.6 72.5L394.4 75.6"/>
<path d="M373.8 73.8C376.7 73.1 376.2 72.3 382.5 71.9C388.8 71.5 388.5 71.2 392.5 72.5C396.5 73.8 394.4 73.1 394.4 75.6C394.4 78.1 396.5 77.5 392.5 80C388.5 82.5 385.8 82.1 382.5 83.1"/>
<path d="M382.5 83.1L340 89.4L335 88.8L313.1 77.5"/>
<path d="M287.5 113.5L287.8 96.9"/>
<path d="M287.8 96.9C288.5 95.1 287.6 94.5 290 91.5C292.4 88.5 289.2 90.8 295 87.9C300.8 85 301.5 86.2 307.5 82.8C313.5 79.3 311.2 79.2 313.1 77.5"/>
<path d="M279.4 113.8L287.5 113.8"/>
<path d="M382.5 71.9C384.2 72.5 387.5 72.7 387.5 73.8C387.5 74.8 384.2 74.6 382.5 75"/>
<path d="M340 89.4L371.2 106.2" class="d" stroke-dasharray="9 3"/>
<path d="M411 68.7L508 53L508 88" class="d" stroke-dasharray="9 3"/>
<path d="M508 88L992 36" class="d" stroke-dasharray="22 4"/>
<path d="M371.2 105L380.6 107.5L380.6 127.5L371.9 122.5Z"/>
<path d="M371.2 105L380 100.6L388.1 103.1L380.6 107.5"/>
<path d="M388.1 103.1L388.8 123.1L380.6 127.5"/>
<path d="M372.5 108.8C373.8 108.5 374.6 106.9 376.2 108.1C377.9 109.4 378.3 110.4 377.5 112.5C376.7 114.6 375.6 114.4 373.8 114.4C371.9 114.4 372.5 113.1 371.9 112.5"/>
<path d="M372.5 117.5C374 117.1 375 115 376.9 116.2C378.8 117.5 379 119 378.1 121.2C377.3 123.5 375.6 122.5 374.4 123.1"/>
<path d="M384.4 115C386.2 114.8 387.5 113.3 390 114.4C392.5 115.4 393.1 116.2 391.9 118.1C390.6 120 388.8 120.2 386.2 120C383.8 119.8 385 118.3 384.4 117.5"/>
<path d="M391.9 118.1L398.8 122.5"/>
<path d="M398.7 122.5L398.7 158" class="d" stroke-dasharray="9 3"/>
<g transform="translate(318.4 138.9) rotate(0) scale(1.0 1)"><path class="w" d="M-9.3 0.3L-6.5 -6.3L-2.5 -9L1.5 -8.6L4 -6L-3 6L-1 10.3L-5 8.5L-5.7 5Z"/><ellipse class="w" cx="2.2" cy="0.6" rx="6.9" ry="9.4" transform="rotate(8)"/><ellipse cx="0.8" cy="0.9" rx="2.6" ry="3.5" transform="rotate(8)"/><path d="M-6.5 -6.3L-3.6 -3.4M-9.3 0.3L-4.6 1.2M-2.5 -9L-0.5 -6.6"/></g>
<path d="M326 143L350 157.5" class="d" stroke-dasharray="9 3"/>
<path d="M337.5 177.5C339.6 174.6 338.8 175.4 343.8 168.8C348.8 162.1 346.2 163.8 352.5 157.5C358.8 151.2 355.8 152.9 362.5 150C369.2 147.1 366.7 147.9 372.5 148.8C378.3 149.6 377.5 151.2 380 152.5"/>
<path d="M380 152.5L390 157.5L412.5 170L423.8 177.5L423.8 195L415 203.8L407.5 200L407.5 192.5"/>
<path d="M407.5 200C403.3 198.3 405.8 196.2 395 195C384.2 193.8 385 193.3 375 196.2C365 199.2 371.7 200.4 365 203.8C358.3 207.1 359.6 207.1 355 206.2C350.4 205.4 352.1 205 351.2 201.2C350.4 197.5 349.6 198.3 352.5 195C355.4 191.7 357.5 192.5 360 191.2"/>
<path d="M337.5 177.5C337.3 182.5 334.9 186 337 192.5C339.1 199 339.4 196.8 343.8 197C348.1 197.2 347.9 194.3 350 193"/>
<path d="M360 191.2C363.3 185.4 364.2 182.5 370 173.8C375.8 165 371.7 169.2 377.5 165C383.3 160.8 380 161.2 387.5 161.2C395 161.2 395.8 163.8 400 165"/>
<path d="M400 165L415 173.8"/>
<path d="M350 193C353.3 188.7 352.5 189.8 360 180C367.5 170.2 365 171.2 372.5 163.8C380 156.2 379.2 159.6 382.5 157.5"/>
<path d="M340 178.8L355 160"/>
<ellipse cx="345" cy="188.8" rx="2.6" ry="4.2" transform="rotate(25 345 188.8)"/>
<ellipse cx="358.8" cy="197.5" rx="2.6" ry="4.2" transform="rotate(25 358.8 197.5)"/>
<path d="M360 165C360.4 162.5 359.6 162.1 363.8 161.2C367.9 160.4 370.4 160.4 372.5 162.5C374.6 164.6 373.3 165.4 370 167.5C366.7 169.6 365.8 169.6 362.5 168.8C359.2 167.9 359.6 167.5 360 165Z"/>
<path d="M375 173C375.4 170.5 374.6 170.3 378.8 169.5C382.9 168.7 385.4 168.5 387.5 170.5C389.6 172.5 388.3 173.3 385 175.5C381.7 177.7 380.8 177.8 377.5 177C374.2 176.2 374.6 175.5 375 173Z"/>
<ellipse cx="414.2" cy="180.8" rx="1.4" ry="2.6" transform="rotate(20 414.2 180.8)"/>
<ellipse cx="417" cy="194.5" rx="2.4" ry="3.6" transform="rotate(20 417 194.5)"/>
<ellipse cx="423.8" cy="163.8" rx="8.3" ry="10.5" transform="rotate(10 423.8 163.8)"/>
<ellipse cx="423.8" cy="163.8" rx="4.3" ry="5.5" transform="rotate(10 423.8 163.8)"/>
<path d="M417.5 172.5L423.8 177.5"/>
<path d="M430 173.8C433.3 172.9 432.9 170.4 440 171.2C447.1 172.1 447.1 173.3 451.2 176.2C455.4 179.2 455 178.3 452.5 180C450 181.7 448.8 181.7 443.8 181.2C438.8 180.8 439.6 179.6 437.5 178.8"/>
<path d="M425 181.2C427.5 183.2 427.1 184.8 432.5 187C437.9 189.2 438.8 189.1 441.2 188C443.8 186.9 442.5 185.6 440 183.8C437.5 181.9 435.8 182.9 433.8 182.5"/>
<path d="M372.5 205L380 207.5L435 205" class="d" stroke-dasharray="14 4"/>
<path d="M407.5 193L407.5 262" class="d" stroke-dasharray="12 3"/>
<path d="M407.5 262L407.5 300" class="d" stroke-dasharray="12 3"/>
<path class="w" d="M437.1 210.4L457.6 221.9L460.4 217.1L439.9 205.6"/>
<ellipse cx="438.5" cy="208" rx="1.4" ry="2.8" transform="rotate(29.3 438.5 208)" class="w"/>
<ellipse cx="441" cy="209.4" rx="1.4" ry="2.8" transform="rotate(29.3 441 209.4)"/>
<ellipse cx="443.4" cy="210.8" rx="1.4" ry="2.8" transform="rotate(29.3 443.4 210.8)"/>
<ellipse cx="445.9" cy="212.1" rx="1.4" ry="2.8" transform="rotate(29.3 445.9 212.1)"/>
<ellipse cx="448.3" cy="213.5" rx="1.4" ry="2.8" transform="rotate(29.3 448.3 213.5)"/>
<ellipse cx="460.5" cy="220.2" rx="4" ry="7" transform="rotate(30 460.5 220.2)" class="w"/>
<path class="w" d="M461.5 213.5L466 212.5L472 215.5L475 222L473 230L468 233L462.5 231L459.5 226"/>
<path d="M466 212.5L467.5 221L468 233"/>
<path d="M467.5 221L475 222"/>
<ellipse cx="183.9" cy="503.4" rx="21" ry="31.5" transform="rotate(-14 183.9 503.4)"/>
<ellipse cx="183" cy="505.4" rx="10.5" ry="15.5" transform="rotate(-14 183 505.4)"/>
<path class="w" d="M175.5 496.4L145.9 510.5L157.2 531.6L185.3 518.9Z" stroke="none"/>
<path d="M175.5 495.6L145.4 509.9"/>
<path d="M185.9 519.5L157.7 532.1"/>
<ellipse cx="151.6" cy="520.9" rx="8" ry="11.8" transform="rotate(-14 151.6 520.9)" class="w"/>
<path d="M181.1 492.2C183.4 494.5 185.3 493.1 188.1 499.2C190.9 505.3 190.3 503.7 189.5 510.5C188.8 517.2 187.1 516.5 185.9 519.5"/>
<ellipse cx="172.6" cy="480.4" rx="1.5" ry="2"/>
<ellipse cx="192.9" cy="492.7" rx="1.5" ry="2"/>
<ellipse cx="198.8" cy="519.5" rx="1.5" ry="2"/>
<path d="M169.8 482.3L112.2 510.5" class="d" stroke-dasharray="12 3"/>
<path d="M192.9 493.6L131.9 524.5" class="d" stroke-dasharray="12 3"/>
<path d="M198 520.3L138.9 551.2" class="d" stroke-dasharray="12 3"/>
<path d="M138.9 551.2L122 562.5" class="d" stroke-dasharray="6 3"/>
<path d="M105.2 533L112.2 513.3L134.7 524.5L138.9 552.6"/>
<path d="M105.2 533L116.4 518.9"/>
<ellipse cx="222.4" cy="481.5" rx="15.3" ry="19.3" transform="rotate(-18 222.4 481.5)"/>
<ellipse cx="220.8" cy="481.5" rx="9.3" ry="13.2" transform="rotate(-18 220.8 481.5)"/>
<ellipse cx="221.2" cy="482" rx="6.6" ry="10.2" transform="rotate(-18 221.2 482)"/>
<path d="M212.9 467A15.3 19.3 -18 0 0 216.4 500.2"/>
<path d="M238.7 472.5L254.2 464.6" class="d" stroke-dasharray="9 3"/>
<path class="w" d="M119.9 561.7L106.9 568.9L109.1 572.7L122.1 565.5"/>
<ellipse cx="121" cy="563.6" rx="1.1" ry="2.2" transform="rotate(151 121 563.6)" class="w"/>
<ellipse cx="106.8" cy="573.5" rx="3.6" ry="7" transform="rotate(-25 106.8 573.5)" class="w"/>
<path class="w" d="M104.5 567L99.5 567.5L95.5 571L95 577.5L98 582.5L103 583L106.5 580"/>
<path d="M99.5 567.5L100.5 575L103 583"/>
<path d="M95 577.5L100.5 575"/>
<ellipse cx="425" cy="577.5" rx="11.3" ry="6.4" stroke-width="1.9"/>
<path d="M424.3 550L424.3 570" class="d" stroke-dasharray="12 3"/>
<path d="M424.3 585L424.3 598" class="d" stroke-dasharray="5 2"/>
<path class="w" d="M417 601V609H433V601"/>
<ellipse cx="425" cy="601" rx="8" ry="3.4" class="w"/>
<ellipse cx="425" cy="601" rx="5" ry="2"/>
<path d="M417 604L433 604"/>
<path d="M417 606.5L433 606.5"/>
<path class="w" d="M412.5 611L417 608.5H433L437.5 611V617.5L432 622.5H418L412.5 617.5Z"/>
<path d="M418 613L418 622.5"/>
<path d="M432 613L432 622.5"/>
<path d="M412.5 611L418 613L432 613L437.5 611"/>
<g transform="translate(548.4 552.8) rotate(-25) scale(-1 1)"><path class="w" d="M-9.3 0.3L-6.5 -6.3L-2.5 -9L1.5 -8.6L4 -6L-3 6L-1 10.3L-5 8.5L-5.7 5Z"/><ellipse class="w" cx="2.2" cy="0.6" rx="6.9" ry="9.4" transform="rotate(8)"/><ellipse cx="0.8" cy="0.9" rx="2.6" ry="3.5" transform="rotate(8)"/><path d="M-6.5 -6.3L-3.6 -3.4M-9.3 0.3L-4.6 1.2M-2.5 -9L-0.5 -6.6"/></g>
<path d="M502.5 500L572.5 538.7L556 548" class="d" stroke-dasharray="12 3"/>
<path d="M761.9 308.3C763.3 308 761.4 305.1 766.1 307.4C770.8 309.8 766.1 309.4 775.9 315.3C785.8 321.2 783.9 318.6 795.6 325.2C807.3 331.7 801.7 327 811.1 335C820.5 343 816.7 342 823.7 349.1C830.8 356.1 826.5 353.3 832.2 356.1C837.8 358.9 835.9 352.3 840.6 357.5C845.3 362.6 843 358.4 846.2 371.6C849.5 384.7 849.5 380.9 850.4 396.9C851.4 412.8 847.2 405.3 849 419.4C850.9 433.4 854.7 430.6 856.1 439C857.5 447.5 857 443.3 853.3 444.7C849.5 446.1 850.9 445.6 844.8 443.3C838.7 440.9 844.4 442.8 835 437.6C825.6 432.5 822.8 431.1 816.7 427.8"/>
<path d="M816.7 427.8C808.7 427.8 802.6 428.7 792.8 427.8C783 426.9 790.5 430.6 787.2 425C783.9 419.4 784.4 415.6 783 410.9"/>
<path d="M787.2 425C778.7 423.1 774.1 423.1 761.9 419.4C749.7 415.6 760.9 419.4 750.6 413.7C740.3 408.1 739.8 411.9 730.9 402.5C722 393.1 725.8 395 723.9 385.6C722 376.2 721.6 381.4 725.3 374.4C729.1 367.3 725.3 376.7 735.2 364.5C745 352.3 746.4 348.6 754.8 337.8C763.3 327 755.8 336.9 760.5 332.2C765.1 327.5 767.5 328.9 768.9 323.7C770.3 318.6 767 321.9 764.7 316.7C762.3 311.6 762.8 311.1 761.9 308.3"/>
<path d="M774.5 316.7C774.5 320.9 771.2 323.3 774.5 329.4C777.8 335.5 776.4 334.1 784.4 335C792.3 335.9 789.1 329.4 798.4 332.2C807.8 335 804 335 812.5 343.4C820.9 351.9 816.2 348.1 823.7 357.5C831.2 366.9 829.4 362.2 835 371.6C840.6 380.9 836.9 371.6 840.6 385.6C844.4 399.7 843.9 396.9 846.2 413.7C848.6 430.6 847.2 428.7 847.6 436.2"/>
<path d="M768.9 323.7L774.5 329.4"/>
<ellipse cx="766.9" cy="313.9" rx="2" ry="3.6" transform="rotate(-30 766.9 313.9)"/>
<ellipse cx="836.4" cy="356.1" rx="2.2" ry="3.4" transform="rotate(-20 836.4 356.1)"/>
<ellipse cx="851.9" cy="440.4" rx="2.2" ry="3.4" transform="rotate(-20 851.9 440.4)"/>
<ellipse cx="747.2" cy="399.1" rx="11.8" ry="14.2" transform="rotate(-20 747.2 399.1)"/>
<ellipse cx="748.4" cy="398.6" rx="9" ry="12" transform="rotate(-20 748.4 398.6)"/>
<path d="M784.4 337.8L774.5 365.9L761.9 380L770.3 391.2L787.2 413.7L790 425"/>
<path d="M774.5 365.9L798.4 398.3L787.2 413.7"/>
<path d="M798.4 398.3L829.4 382.8"/>
<path d="M770.3 391.2L812.5 364.5"/>
<path d="M735.2 364.5L761.9 380"/>
<path d="M760.5 419.4L771.7 437.6L780.1 436.2L768.9 419.4"/>
<path d="M764.7 422.2L774.5 436.2"/>
<path d="M816.7 427.8L836.4 418"/>
<path d="M816.7 427.8L840.6 436.2"/>
<path d="M835 371.6C835.9 374.4 834 376.2 837.8 380C841.5 383.7 843.4 381.9 846.2 382.8"/>
<path d="M754.8 337.8C755.8 335.9 755.8 334.1 757.6 332.2C759.5 330.3 759.5 332.2 760.5 332.2"/>
<path d="M840.6 360.3L979 464" class="d" stroke-dasharray="16 4"/>
<path d="M979 464L872.5 525" class="d" stroke-dasharray="16 4"/>
<path d="M863.2 465.5C861 466.6 860.1 466.6 856.5 468.8C852.9 470.9 853.8 469.4 852.5 472C851.2 474.6 851.1 472.6 852.8 476.5C854.4 480.4 846.3 469.1 857.5 483.8C868.7 498.4 875 505.8 886.2 520.5C897.5 535.2 889 521.5 891.2 528C893.5 534.5 890.4 528.5 893 540C895.6 551.5 896.2 552.7 899 562.5C901.8 572.3 899.2 566 901.5 569.5C903.8 573 902.5 572.7 906 573C909.5 573.3 907.6 572.6 912 570.5C916.4 568.4 916.8 568 919.2 566.8" stroke="#000" stroke-width="7.300000000000001" fill="none" stroke-linecap="round" stroke-linejoin="round"/>
<path d="M863.2 465.5C861 466.6 860.1 466.6 856.5 468.8C852.9 470.9 853.8 469.4 852.5 472C851.2 474.6 851.1 472.6 852.8 476.5C854.4 480.4 846.3 469.1 857.5 483.8C868.7 498.4 875 505.8 886.2 520.5C897.5 535.2 889 521.5 891.2 528C893.5 534.5 890.4 528.5 893 540C895.6 551.5 896.2 552.7 899 562.5C901.8 572.3 899.2 566 901.5 569.5C903.8 573 902.5 572.7 906 573C909.5 573.3 907.6 572.6 912 570.5C916.4 568.4 916.8 568 919.2 566.8" stroke="#fff" stroke-width="5.1" fill="none" stroke-linecap="round" stroke-linejoin="round"/>
<path class="w" d="M879.5 513.8L900 504.5L905 511.2L883.8 520.5Z"/>
<ellipse cx="898.8" cy="508.8" rx="2.5" ry="4" transform="rotate(-25 898.8 508.8)"/>
<path d="M890 508.8L893.8 516.2"/>
<path class="w" d="M867.9 524.6L856.9 530.6L859.1 534.4L870.1 528.4"/>
<ellipse cx="869" cy="526.5" rx="1.1" ry="2.2" transform="rotate(151.4 869 526.5)" class="w"/>
<ellipse cx="867.7" cy="527.2" rx="1.1" ry="2.2" transform="rotate(151.4 867.7 527.2)"/>
<ellipse cx="866.4" cy="527.9" rx="1.1" ry="2.2" transform="rotate(151.4 866.4 527.9)"/>
<ellipse cx="856.3" cy="534.5" rx="3.8" ry="7.2" transform="rotate(-28 856.3 534.5)" class="w"/>
<path class="w" d="M854.5 528L849.5 528.5L845.5 532L845 539L848 544L853.5 545L857 541.5"/>
<path d="M849.5 528.5L850.5 536.5L853.5 545"/>
<path d="M845 539L850.5 536.5"/>
</g>
<g class="b" id="pen">
<path d="M1009 15C1018.5 15.3 1012 13.8 1019 16.5C1026 19.2 1020.5 19.2 1030 23C1039.5 26.8 1037.5 26 1047.5 28C1057.5 30 1049.2 28.5 1060 29C1070.8 29.5 1070.2 29.2 1080 29.4C1089.8 29.6 1083.2 28.4 1089.4 29.7C1095.7 31 1091.5 29.8 1098.8 33.3C1106 36.8 1103.4 35.9 1111.2 40.3C1119.1 44.7 1116 43 1122.2 46.6C1128.5 50.2 1125.8 47.1 1130 51.2C1134.2 55.4 1131 51.8 1134.7 59C1138.4 66.2 1136.8 64.1 1141 73C1145.2 81.9 1143.3 76.2 1147.2 85.6C1151.1 95 1149.7 92.5 1152.7 101.2C1155.7 110 1153.9 105 1156.3 112C1158.7 119 1157.4 113.4 1160 122.2C1162.6 131 1161.6 127.6 1164 138.4C1166.4 149.2 1165.8 143.8 1167.2 154.7C1168.6 165.6 1167.2 161.6 1168.2 171C1169.2 180.4 1167.8 174.9 1170.2 183C1172.6 191.1 1173.9 187.1 1175.3 195.3C1176.7 203.5 1176.7 199.4 1174.3 207.5C1171.9 215.6 1171.6 212.1 1168.2 219.6C1164.8 227.1 1165.8 223.4 1164 230C1162.2 236.6 1162.9 232.6 1162.8 239.4C1162.7 246.2 1165.2 242 1163.6 250.3C1162 258.6 1163 255.5 1158 264.4C1153 273.3 1155.5 268.6 1148.8 276.9C1142 285.2 1145.6 281.1 1137.8 289.4C1130 297.7 1134.1 294.1 1125.3 301.9C1116.5 309.7 1121.2 306.6 1111.2 312.8C1101.3 319 1103.7 316.6 1095.6 320.6C1087.5 324.6 1094 322.3 1086.9 324.8C1079.8 327.3 1084.8 326.4 1074.4 328C1064 329.6 1068.1 329.2 1055.6 329.5C1043.1 329.8 1048.4 330.3 1036.9 328.8C1025.5 327.2 1030.6 328.4 1021.2 324.8C1011.9 321.2 1016 322.7 1008.8 317.8C1001.5 312.9 1006.7 314.7 999.4 310C992.1 305.3 996.3 307.1 986.9 303.8C977.5 300.4 981.1 302.7 971.2 299.8C961.4 296.9 965 298.9 957.2 295C949.4 291.1 953.4 293.8 947.8 288C942.2 282.2 947 284.6 940.3 277.5C933.6 270.4 936.1 273.9 927.8 266.6C919.5 259.3 922.6 262.9 915.3 255.6C908 248.3 911.4 252.6 906 244.7C900.6 236.8 902.9 240.9 899 232C895.1 223.1 897.6 227.8 894.2 218C890.8 208.2 892.3 210.6 888.8 202.5C885.2 194.4 887.6 201.9 883.6 193.8C879.6 185.6 880.5 188.4 876.6 178C872.7 167.6 874 172.9 871.9 162.5C869.8 152.1 870.6 157.3 870.3 146.9C870 136.5 869.4 141.7 871 131.2C872.6 120.8 872.3 124.3 875 115.6C877.7 106.8 876.1 111 879 105C881.9 99 879.2 106.8 883.6 97.5C888 88.2 885.7 89.7 892.2 77.2C898.7 64.7 895.2 70.4 903 60C910.8 49.6 906.2 54.9 915.6 46C925 37.1 919.8 41 931.2 33.4C942.7 25.8 937.5 28.5 950 23.3C962.5 18.1 955.2 20.4 968.8 17.8C982.3 15.2 977.2 16.4 990.6 15.5C1004 14.6 999.5 14.7 1009 15Z"/>
<path d="M1127 44.5L1130.5 51L1137 55.5" stroke-width="6.4"/>
<path d="M625.6 288C619 286 612 285 605 284.4C598 283.8 592 283.8 586 283.4C580 283 574.5 281 569.4 281.6C565 282.3 562.5 284 560 287C556.5 291 554 295 553.4 299.4C552.8 304 553.3 308 554.4 312.5C556 319 558.5 324 562 329.4C566 335.5 570 340 575 344.4C580 348.5 585 351.5 590 353.7C594.5 355.8 598.5 357.7 603 358.4C607.5 359 612 358.5 616.2 356.6C620.5 354.5 624 351.5 627.5 348C631 344.5 635 341 637 337C639.5 332 640.3 327 640.6 322C641 317 640.6 311.5 639.7 307C639 303.5 638.5 301.5 637 299.4C635.5 297.2 633.5 295.5 631.2 293.7"/>
</g>

</svg>
</body></html>
